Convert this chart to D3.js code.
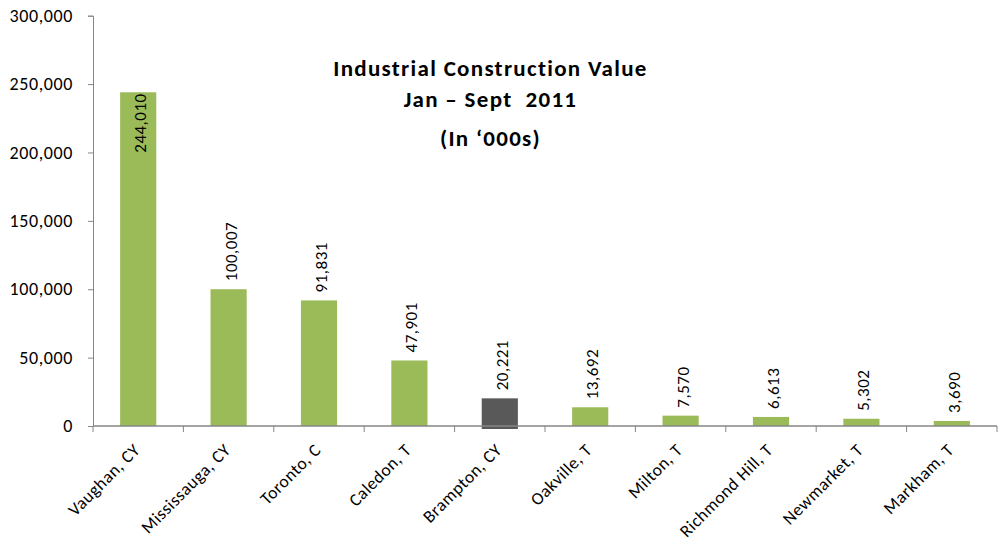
<!DOCTYPE html>
<html><head><meta charset="utf-8">
<script src="https://cdn.jsdelivr.net/npm/d3@7"></script>
<style>
body{margin:0;background:#fff;}
svg{display:block;font-family:Carlito,Calibri,Lato,sans-serif;}
</style></head>
<body><svg id="c" width="998" height="545"></svg>
<script>
const categories = ["Vaughan, CY","Mississauga, CY","Toronto, C","Caledon, T","Brampton, CY","Oakville, T","Milton, T","Richmond Hill, T","Newmarket, T","Markham, T"];
const values = [244010,100007,91831,47901,20221,13692,7570,6613,5302,3690];
const highlight = ["Brampton, CY"];
const yTicks = [0,50000,100000,150000,200000,250000,300000];
const titleLines = ["Industrial Construction Value","Jan \u2013 Sept  2011","(In \u2018000s)"];

(function(){
const svg = d3.select("#c");
const pL = 93, pR = 997, pT = 15.7, pB = 426;
const x = d3.scaleBand().domain(categories).range([pL,pR]).paddingInner(0.6).paddingOuter(0.3);
const xb = d3.scaleBand().domain(categories).range([pL,pR]);
const y = d3.scaleLinear().domain([0,300000]).range([pB,pT]);
const fmt = d3.format(",");
const axisColor = "#868686";

// y axis
const ya = svg.append("g").attr("transform",`translate(${pL},0)`)
  .call(d3.axisLeft(y).tickValues(yTicks).tickFormat(fmt).tickSize(5).tickPadding(15));
ya.attr("font-family",null).attr("font-size",null);
ya.select(".domain").attr("stroke",axisColor);
ya.selectAll(".tick line").attr("stroke",axisColor);
ya.selectAll(".tick text").attr("font-size",18).attr("letter-spacing","0.6px").attr("fill","#000");

// bars
svg.append("g").selectAll("rect").data(categories).join("rect")
  .attr("x",d=>x(d)).attr("width",x.bandwidth())
  .attr("y",(d,i)=>y(values[i]))
  .attr("height",(d,i)=>y(0)-y(values[i]) + (highlight.includes(d)?3:0))
  .attr("fill",d=>highlight.includes(d)?"#595959":"#9bbb59");

// x axis
const xa = svg.append("g").attr("transform",`translate(0,${pB})`);
xa.append("line").attr("x1",pL).attr("x2",pR).attr("stroke",axisColor).attr("stroke-width",1.5);
const bounds = categories.map(c=>xb(c)).concat([pR]);
xa.selectAll("line.t").data(bounds).join("line").attr("class","t")
  .attr("x1",d=>d).attr("x2",d=>d).attr("y1",0).attr("y2",6).attr("stroke",axisColor);
xa.selectAll("text").data(categories).join("text")
  .attr("transform",d=>`translate(${x(d)+x.bandwidth()/2+3},${25}) rotate(-45)`)
  .attr("text-anchor","end").attr("font-size",17.5).attr("letter-spacing","0.5px")
  .attr("fill","#000").text(d=>d);

// value labels
svg.append("g").selectAll("text").data(categories).join("text")
  .attr("transform",(d,i)=>{
    const cx = x(d)+x.bandwidth()/2+8;
    const inside = values[i] > 200000;
    const yy = inside ? y(values[i])+1 : y(values[i])-8;
    return `translate(${cx},${yy}) rotate(-90)`;
  })
  .attr("text-anchor",(d,i)=>values[i]>200000?"end":"start")
  .attr("font-size",17).attr("letter-spacing","0.5px").attr("fill","#000").text((d,i)=>fmt(values[i]));

// title
const ty = [76,107,146];
svg.append("g").selectAll("text").data(titleLines).join("text")
  .attr("x",490.5).attr("y",(d,i)=>ty[i]).attr("text-anchor","middle")
  .style("white-space","pre")
  .attr("font-size",23).attr("letter-spacing","1.3px")
  .attr("font-weight","bold").attr("fill","#000").text(d=>d);
})();
</script></body></html>
